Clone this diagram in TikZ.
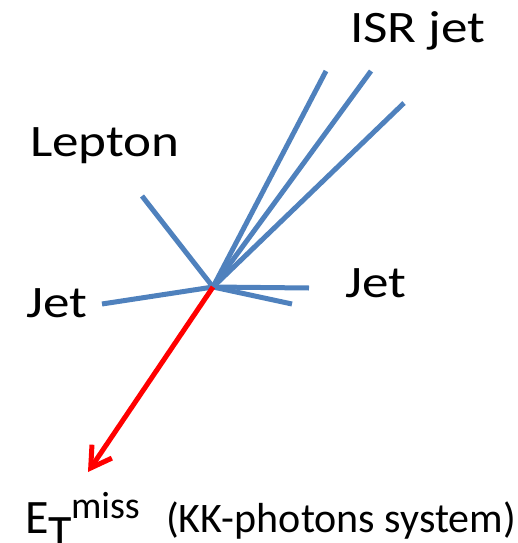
\documentclass[tikz,border=0pt]{standalone}
\usepackage{fontspec}
\setmainfont{Carlito}
\usetikzlibrary{arrows.meta}
\definecolor{JetBlue}{HTML}{4F81BD}

\begin{document}
\begin{tikzpicture}[
  x=1pt, y=-1pt,
  jet/.style={line width=5pt, JetBlue},
  met/.style={line width=5pt, red, -{Straight Barb[length=20pt,width=24pt,line width=5pt]}},
  lbl/.style={anchor=base west, inner sep=0pt, xscale=1.18, font=\fontsize{45}{50}\selectfont}
]
\useasboundingbox (0,0) rectangle (518,543);
% interaction vertex and jet ends
\coordinate (vtx) at (213,287);
\coordinate (lep) at (142,196);
\coordinate (jetL) at (102,304);
\coordinate (jetR) at (309,288);
\coordinate (jetR2) at (292,304);
\coordinate (isrA) at (326,71);
\coordinate (isrB) at (371,71);
\coordinate (isrC) at (404,103);
\coordinate (miss) at (88,472);
% tracks
\foreach \e in {lep,jetL,jetR,jetR2,isrA,isrB,isrC}
  \draw[jet] (vtx) -- (\e);
\draw[met] (vtx) -- (miss);
% labels
\node[lbl] (isr) at (350,43) {ISR jet};
\node[lbl] (lepton) at (30,156) {Lepton};
\node[lbl] (jetl) at (26,317) {Jet};
\node[lbl] (jetr) at (345,297) {Jet};
\node[anchor=base west, inner sep=0pt, font=\fontsize{48}{52}\selectfont] (etmiss) at (25,533)
  {E\raisebox{-15pt}{T}\kern-1pt\raisebox{15pt}{\fontsize{38}{42}\selectfont miss}};
\node[anchor=base west, inner sep=0pt, font=\fontsize{42}{46}\selectfont] (kk) at (166,532) {(KK-photons system)};
\end{tikzpicture}
\end{document}
